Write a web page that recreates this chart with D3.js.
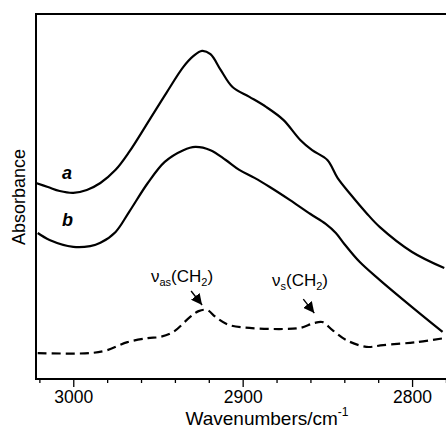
<!DOCTYPE html>
<html>
<head>
<meta charset="utf-8">
<script src="https://cdn.jsdelivr.net/npm/d3@7"></script>
<style>
  body { margin: 0; background: #fff; }
  svg text { font-family: "Liberation Sans", Arial, sans-serif; fill: #000; }
</style>
</head>
<body>
<svg id="chart" width="446" height="429"></svg>
<script>
// wavenumbers (cm-1) and absorbance
let wnA = [3022, 3015, 3008, 3000, 2992, 2984, 2975, 2967, 2955, 2945, 2935, 2929, 2924, 2919, 2913, 2906, 2896, 2886, 2876, 2866, 2859, 2850, 2844, 2836, 2827, 2819, 2800, 2781];
let absA = [0.537, 0.526, 0.515, 0.510, 0.518, 0.537, 0.573, 0.622, 0.710, 0.784, 0.855, 0.885, 0.899, 0.890, 0.847, 0.800, 0.773, 0.745, 0.710, 0.655, 0.627, 0.600, 0.551, 0.504, 0.455, 0.416, 0.348, 0.304];

let wnB = [3021, 3014, 3000, 2990, 2984, 2975, 2967, 2956, 2946, 2935, 2928, 2919, 2910, 2902, 2893, 2884, 2872, 2860, 2851, 2845, 2840, 2831, 2819, 2800, 2782];
let absB = [0.400, 0.381, 0.362, 0.364, 0.373, 0.403, 0.458, 0.537, 0.595, 0.627, 0.636, 0.627, 0.600, 0.573, 0.551, 0.526, 0.490, 0.452, 0.425, 0.400, 0.370, 0.321, 0.271, 0.197, 0.129];

let wnC = [3021, 2990, 2980, 2968, 2956, 2949, 2941, 2931, 2926, 2921, 2916, 2908, 2896, 2876, 2866, 2858, 2853, 2847, 2839, 2827, 2817, 2797, 2781];
let absC = [0.071, 0.071, 0.079, 0.101, 0.112, 0.115, 0.129, 0.170, 0.186, 0.189, 0.170, 0.148, 0.140, 0.137, 0.140, 0.153, 0.156, 0.134, 0.107, 0.088, 0.093, 0.101, 0.112];

let majorTicks = [3000, 2900, 2800];
let minorTicks = [3020, 2980, 2960, 2940, 2920, 2880, 2860, 2840, 2820, 2780];

let curveLabels = ["a", "b"];

let svg = d3.select("#chart");
let plotLeft = 36, plotTop = 14, plotBottom = 379;

let x = d3.scaleLinear().domain([3022, 2770]).range([plotLeft, plotLeft + 252 * 1.694]);
let y = d3.scaleLinear().domain([0, 1]).range([plotBottom, plotTop]);

function toPoints(wn, ab) {
    return wn.map((w, i) => [w, ab[i]]);
}

let line = d3.line()
    .x(d => x(d[0]))
    .y(d => y(d[1]))
    .curve(d3.curveCatmullRom.alpha(0.5));

svg.append("path")
    .attr("d", line(toPoints(wnA, absA)))
    .attr("fill", "none").attr("stroke", "#000").attr("stroke-width", 2.2);

svg.append("path")
    .attr("d", line(toPoints(wnB, absB)))
    .attr("fill", "none").attr("stroke", "#000").attr("stroke-width", 2.2);

svg.append("path")
    .attr("d", line(toPoints(wnC, absC)))
    .attr("fill", "none").attr("stroke", "#000").attr("stroke-width", 2.2)
    .attr("stroke-dasharray", "9,5");

// frame
svg.append("rect")
    .attr("x", plotLeft).attr("y", plotTop)
    .attr("width", x(2770) - plotLeft).attr("height", plotBottom - plotTop)
    .attr("fill", "none").attr("stroke", "#000").attr("stroke-width", 2);

// x axis
let xAxis = svg.append("g").attr("transform", `translate(0,${plotBottom})`)
    .call(d3.axisBottom(x).tickValues(majorTicks).tickSize(8).tickPadding(4).tickFormat(d3.format("d")));
xAxis.select(".domain").remove();
xAxis.selectAll("line").attr("stroke-width", 1.3);
xAxis.selectAll("text").style("font-size", "17.5px").attr("font-family", null);

let xMinor = svg.append("g").attr("transform", `translate(0,${plotBottom})`)
    .call(d3.axisBottom(x).tickValues(minorTicks).tickSize(4).tickFormat(""));
xMinor.select(".domain").remove();
xMinor.selectAll("line").attr("stroke-width", 1.3);

// axis titles
let xt = svg.append("text")
    .attr("x", 267).attr("y", 425)
    .attr("text-anchor", "middle")
    .style("font-size", "19px");
xt.append("tspan").text("Wavenumbers/cm");
xt.append("tspan").attr("dy", -9).style("font-size", "12px").text("-1");

svg.append("text")
    .attr("transform", "translate(25,197) rotate(-90)")
    .attr("text-anchor", "middle")
    .style("font-size", "18px")
    .text("Absorbance");

// curve labels
svg.append("text").attr("x", 62).attr("y", 179)
    .style("font-size", "18px").style("font-weight", "bold").style("font-style", "italic")
    .text(curveLabels[0]);
svg.append("text").attr("x", 62).attr("y", 226)
    .style("font-size", "18px").style("font-weight", "bold").style("font-style", "italic")
    .text(curveLabels[1]);

// band annotations with arrows
let bands = [
    { sub: "as", wn: 2921, ab: 0.189, tx: 182, ty: 282, dx: -5, dy: -5 },
    { sub: "s", wn: 2853, ab: 0.156, tx: 300, ty: 286, dx: -8, dy: -9 }
];

svg.append("defs").append("marker")
    .attr("id", "arrow")
    .attr("viewBox", "0 0 10 10")
    .attr("refX", 10).attr("refY", 5)
    .attr("markerWidth", 11).attr("markerHeight", 11)
    .attr("markerUnits", "userSpaceOnUse")
    .attr("orient", "auto")
    .append("path").attr("d", "M0,0 L10,5 L0,10 Z").attr("fill", "#000");

bands.forEach(b => {
    let px = x(b.wn) + b.dx, py = y(b.ab) + b.dy;
    svg.append("line")
        .attr("x1", px - 11).attr("y1", py - 14)
        .attr("x2", px).attr("y2", py)
        .attr("stroke", "#000").attr("stroke-width", 1.4)
        .attr("marker-end", "url(#arrow)");

    let t = svg.append("text").attr("x", b.tx).attr("y", b.ty)
        .attr("text-anchor", "middle").style("font-size", "17px");
    t.append("tspan").text("\u03bd");
    t.append("tspan").attr("dy", 4).style("font-size", "11px").text(b.sub);
    t.append("tspan").attr("dy", -4).text("(CH");
    t.append("tspan").attr("dy", 4).style("font-size", "11px").text("2");
    t.append("tspan").attr("dy", -4).text(")");
});
</script>
</body>
</html>
